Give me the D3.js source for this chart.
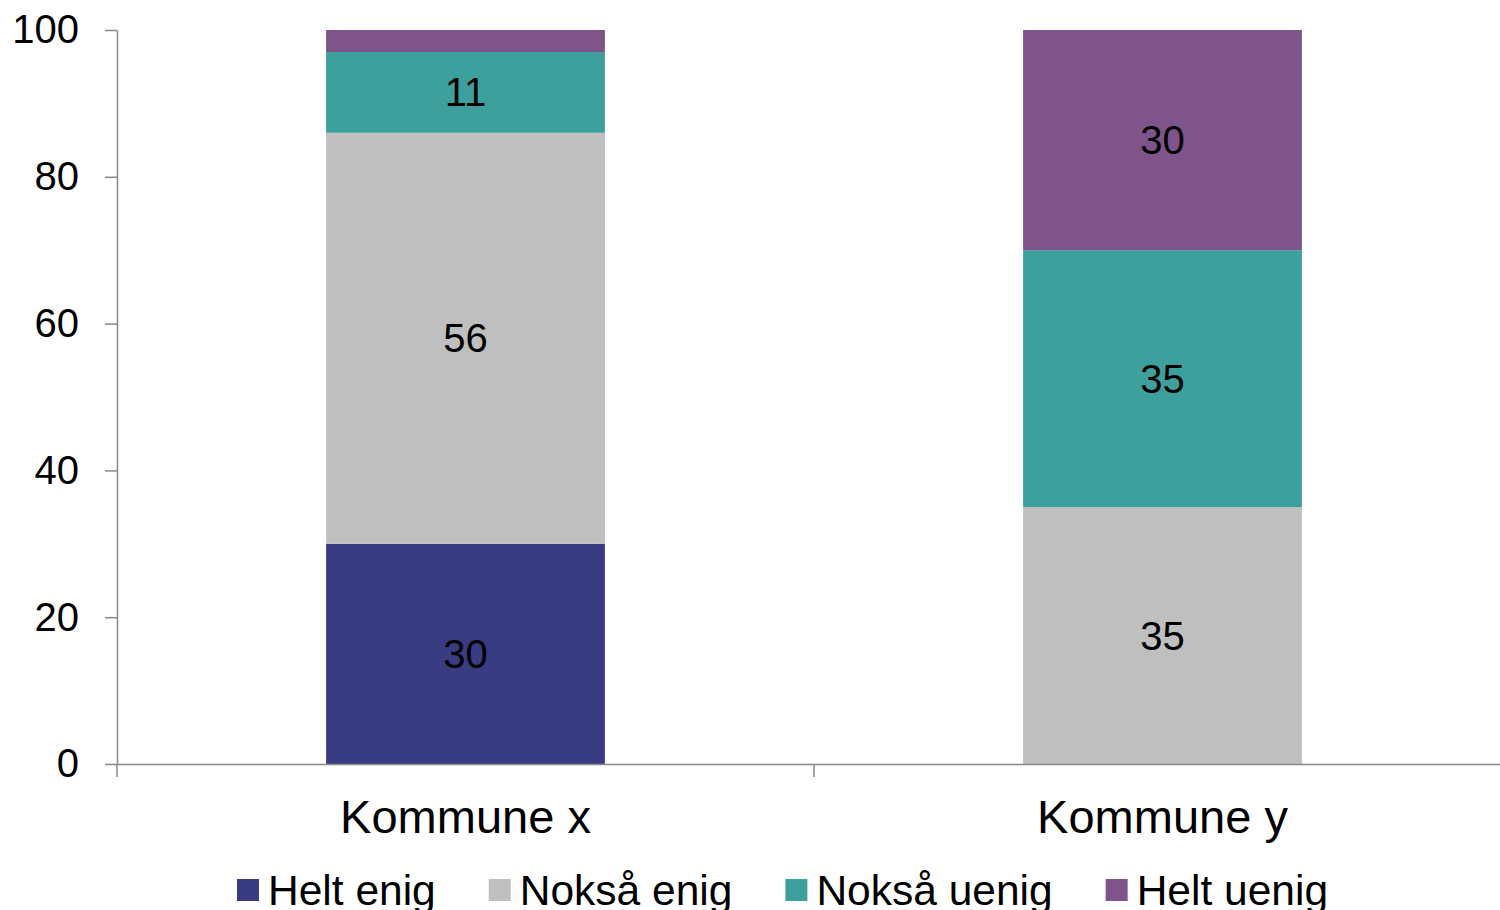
<!DOCTYPE html>
<html>
<head>
<meta charset="utf-8">
<script src="https://cdn.jsdelivr.net/npm/d3@7"></script>
<style>
  body { margin: 0; background: #fff; }
  svg { display: block; font-family: "Liberation Sans", Arial, sans-serif; }
</style>
</head>
<body>
<div id="chart"></div>
<script>
// Data
var categories = ['Kommune x', 'Kommune y'];
var seriesNames = ['Helt enig', 'Nokså enig', 'Nokså uenig', 'Helt uenig'];
var heltEnig = [30, 0];
var noksaEnig = [56, 35];
var noksaUenig = [11, 35];
var heltUenig = [3, 30];
var yTicks = [0, 20, 40, 60, 80, 100];
var colors = ['#393c82', '#bfbfbf', '#3da09c', '#7f548b'];

var svgWidth = 1500;
var svgHeight = 910;

var svg = d3.select('#chart').append('svg')
    .attr('width', svgWidth)
    .attr('height', svgHeight);

// build rows for d3.stack
var rows = categories.map(function(c, i) {
    return {
        category: c,
        'Helt enig': heltEnig[i],
        'Nokså enig': noksaEnig[i],
        'Nokså uenig': noksaUenig[i],
        'Helt uenig': heltUenig[i]
    };
});

var stacked = d3.stack().keys(seriesNames)(rows);

var yScale = d3.scaleLinear()
    .domain([0, 100])
    .range([764, 30]);

var xScale = d3.scaleBand()
    .domain(categories)
    .range([117, 1511])
    .padding(0);

var color = d3.scaleOrdinal()
    .domain(seriesNames)
    .range(colors);

var barWidth = xScale.bandwidth() * 0.4;

// Bars
var layers = svg.append('g').selectAll('g')
    .data(stacked)
    .enter().append('g')
        .attr('fill', (d) => color(d.key));

layers.selectAll('rect')
    .data((d) => d)
    .enter().append('rect')
        .attr('x', (d) => xScale(d.data.category) + (xScale.bandwidth() - barWidth) / 2)
        .attr('width', barWidth)
        .attr('y', (d) => yScale(d[1]))
        .attr('height', (d) => yScale(d[0]) - yScale(d[1]));

// Value labels (small segments left unlabelled)
layers.selectAll('text')
    .data((d) => d.filter((p) => p[1] - p[0] >= 5))
    .enter().append('text')
        .attr('x', (d) => xScale(d.data.category) + xScale.bandwidth() / 2)
        .attr('y', (d) => yScale((d[0] + d[1]) / 2))
        .attr('dy', '0.35em')
        .attr('text-anchor', 'middle')
        .attr('fill', '#000')
        .style('font-size', '40px')
        .text((d) => Math.round(d[1] - d[0]));

// Y-Axis
var yAxis = d3.axisLeft(yScale)
    .tickValues(yTicks)
    .tickSize(12)
    .tickPadding(26)
    .tickSizeOuter(0);

var yG = svg.append('g')
    .attr('transform', 'translate(117,0)')
    .call(yAxis);

yG.selectAll('text')
    .style('font-size', '40px')
    .style('font-family', '"Liberation Sans", Arial, sans-serif')
    .attr('fill', '#000');

// X-Axis
var xAxis = d3.axisBottom(xScale)
    .tickSize(0)
    .tickPadding(36)
    .tickSizeOuter(0);

var xG = svg.append('g')
    .attr('transform', 'translate(0,764)')
    .call(xAxis);

xG.selectAll('text')
    .style('font-size', '47px')
    .style('font-family', '"Liberation Sans", Arial, sans-serif')
    .attr('fill', '#000');

// tick marks between categories
var boundaries = categories.map((c) => xScale(c)).concat([xScale.range()[1]]);
xG.selectAll('.boundary')
    .data(boundaries)
    .enter().append('line')
        .attr('class', 'boundary')
        .attr('x1', (d) => d)
        .attr('x2', (d) => d)
        .attr('y1', 0)
        .attr('y2', 13);

svg.selectAll('.domain, .tick line, .boundary')
    .attr('stroke', '#898989')
    .attr('stroke-width', 1.5);

// Legend
var legend = svg.append('g')
    .attr('transform', 'translate(0,890)');

var legendX = 237;
seriesNames.forEach(function(name) {
    var item = legend.append('g')
        .attr('transform', 'translate(' + legendX + ',0)');
    item.append('rect')
        .attr('x', 0)
        .attr('y', -11)
        .attr('width', 22)
        .attr('height', 22)
        .attr('fill', color(name));
    var t = item.append('text')
        .attr('x', 31)
        .attr('y', 0)
        .attr('dy', '0.35em')
        .style('font-size', '42.5px')
        .attr('fill', '#000')
        .text(name);
    legendX += 31 + t.node().getComputedTextLength() + 53;
});
</script>
</body>
</html>
